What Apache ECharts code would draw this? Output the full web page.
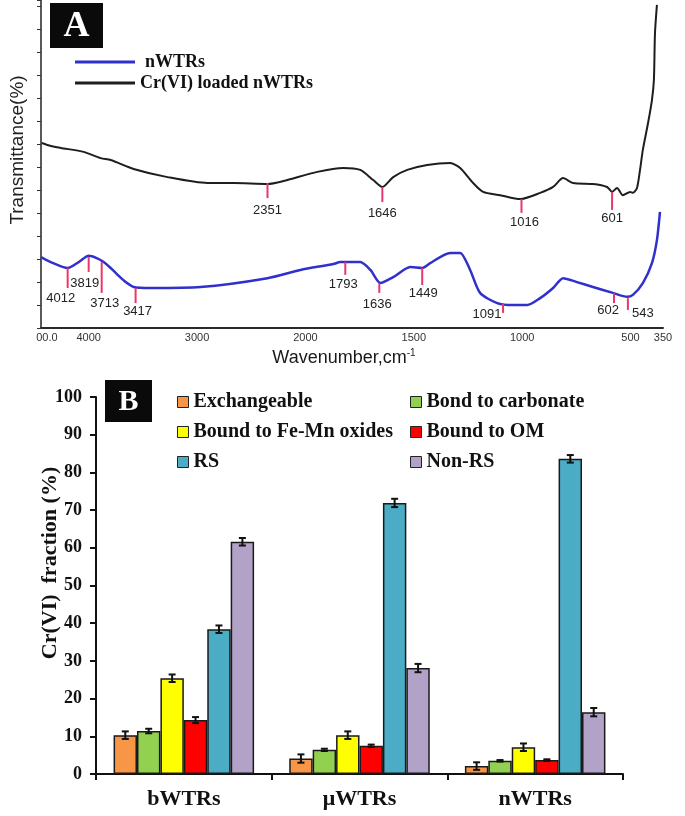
<!DOCTYPE html>
<html><head><meta charset="utf-8">
<script src="https://cdn.jsdelivr.net/npm/echarts@6/dist/echarts.min.js"></script>
<style>html,body{margin:0;padding:0;background:#fff}#c{width:685px;height:816px}</style>
</head><body><div id="c"></div>
<script>
// ---------- Panel A : FTIR spectra ----------
const wnTickLabels = ['00.0', '4000', '3000', '2000', '1500', '1000', '500', '350'];
const wnTickValues = [4385, 4000, 3000, 2000, 1500, 1000, 500, 350];

const loadedWn = [4433,4350,4258,4046,3889,3797,3585,3272,2903,2664,2350,2203,1945,1825,1747,1687,1645,1595,1530,1438,1332,1286,1226,1180,1101,1009,917,857,811,765,673,608,585,562,535,502,489,470,456,443,419,401,392,387,378];
const loadedT  = [56.4,55.5,54.9,53.7,51.8,51.2,48.5,46.0,44.2,44.2,43.9,44.8,47.6,48.8,48.2,45.1,43.0,46.0,48.2,49.7,50.3,48.8,44.2,41.5,40.5,39.3,41.2,43.0,45.7,44.2,43.9,43.0,41.5,42.7,40.5,41.5,41.2,42.7,48.2,54.3,62.5,69.5,75.6,89.9,98.5];

const nWn = [4440,4350,4194,4092,4000,3926,3862,3797,3733,3659,3585,3429,2968,2350,2046,1871,1839,1747,1700,1654,1595,1516,1461,1424,1332,1286,1240,1194,1115,1042,977,917,857,811,747,673,581,516,489,443,401,378,364];
const nT  = [21.6,20.1,18.3,20.1,22.0,21.3,20.1,18.3,16.2,14.0,12.5,12.2,12.5,15.2,17.7,19.5,20.1,20.1,17.7,13.7,15.5,18.6,18.3,19.8,22.9,22.9,17.7,10.7,7.6,7.0,7.0,9.1,12.2,15.2,14.0,12.5,10.7,9.5,10.1,13.7,19.8,26.8,35.4];

const peakLabels = ['2351','1646','1016','601','4012','3819','3713','3417','1793','1636','1449','1091','602','543'];
const peakWn     = [2350,1645,1003,585,4194,4000,3880,3567,1816,1659,1461,1088,576,512];
const peakTop    = [44.2,43.0,39.3,41.5,18.3,21.6,20.1,12.2,20.1,13.7,18.3,7.6,10.7,9.1];
const peakBottom = [39.6,38.4,35.1,36.0,12.2,17.1,10.7,7.6,16.2,10.7,13.1,4.6,7.6,5.5];

// ---------- Panel B : Cr(VI) fractions ----------
const categories = ['bWTRs', 'μWTRs', 'nWTRs'];
const fractionNames = ['Exchangeable', 'Bond to carbonate', 'Bound to Fe-Mn oxides', 'Bound to OM', 'RS', 'Non-RS'];
const exchangeable = [10.3, 4.1, 2.1];
const carbonate    = [11.4, 6.4, 3.5];
const feMnOxides   = [25.4, 10.3, 7.1];
const boundOM      = [14.3, 7.5, 3.7];
const rsFraction   = [38.4, 71.9, 83.6];
const nonRs        = [61.6, 28.1, 16.4];
const exchangeableErr = [1.0, 1.1, 1.0];
const carbonateErr    = [0.6, 0.3, 0.2];
const feMnOxidesErr   = [1.0, 1.0, 1.0];
const boundOMErr      = [0.8, 0.3, 0.2];
const rsFractionErr   = [1.0, 1.1, 1.0];
const nonRsErr        = [1.0, 1.1, 1.1];

// ---------- layout / style ----------
const SERIF = '"Liberation Serif", "Times New Roman", serif';
const SANS = '"Liberation Sans", Arial, sans-serif';
const peakLabelOffset = [[0,12],[0,11],[3,10],[0,9],[-7,10],[-4,12],[3,11],[2,8],[-2,10],[-2,12],[1,8],[-16,2],[-6,7],[15,3]];
const fractionColors = ['#F79646', '#92D050', '#FFFF00', '#FF0000', '#4BACC6', '#B2A2C7'];

// wavenumber axis: scale is compressed 2x above 2000 cm-1
const toT = w => (w <= 2000 ? w : 2000 + (w - 2000) / 2);
const tickT = wnTickValues.map(toT);

const values = [exchangeable, carbonate, feMnOxides, boundOM, rsFraction, nonRs];
const errors = [exchangeableErr, carbonateErr, feMnOxidesErr, boundOMErr, rsFractionErr, nonRsErr];
const errData = [];
values.forEach((arr, si) => arr.forEach((v, ci) => errData.push([ci, si, v, errors[si][ci]])));

const barSeries = fractionNames.map((name, i) => ({
  name, type: 'bar', xAxisIndex: 1, yAxisIndex: 1,
  data: values[i], barGap: '0%', barCategoryGap: '20%',
  itemStyle: { color: fractionColors[i], borderColor: '#1a1a1a', borderWidth: 1.5 },
  silent: true
}));

const chart = echarts.init(document.getElementById('c'), null, { renderer: 'canvas' });
chart.setOption({
  animation: false,
  backgroundColor: '#ffffff',
  grid: [
    { left: 41, top: 0, width: 622, height: 328 },
    { left: 96, top: 397, width: 527, height: 377 }
  ],
  xAxis: [
    {
      gridIndex: 0, type: 'value', min: 350, max: 3220, inverse: true,
      axisLine: { lineStyle: { color: '#2a2a2a', width: 2 } },
      axisTick: { show: false },
      splitLine: { show: false },
      axisLabel: {
        customValues: tickT, margin: 4, fontSize: 11, fontFamily: SANS, color: '#333',
        formatter: v => { const i = tickT.findIndex(t => Math.abs(t - v) < 1); return i >= 0 ? wnTickLabels[i] : ''; }
      }
    },
    {
      gridIndex: 1, type: 'category', data: categories,
      axisLine: { lineStyle: { color: '#111', width: 2 } },
      axisTick: { show: true, length: 6, lineStyle: { color: '#111', width: 2 } },
      axisLabel: { fontFamily: SERIF, fontWeight: 'bold', fontSize: 22, color: '#111', margin: 14 }
    }
  ],
  yAxis: [
    {
      gridIndex: 0, type: 'value', min: 0, max: 100, interval: 7,
      axisLine: { show: true, lineStyle: { color: '#222', width: 1.5 } },
      axisTick: { show: true, length: 4, lineStyle: { color: '#333' } },
      axisLabel: { show: false },
      splitLine: { show: false }
    },
    {
      gridIndex: 1, type: 'value', min: 0, max: 100, interval: 10,
      axisLine: { show: true, lineStyle: { color: '#111', width: 2 } },
      axisTick: { show: true, length: 6, lineStyle: { color: '#111', width: 2 } },
      axisLabel: { fontFamily: SERIF, fontWeight: 'bold', fontSize: 18, color: '#111', margin: 14 },
      splitLine: { show: false }
    }
  ],
  legend: [
    {
      data: [{ name: 'nWTRs', textStyle: { padding: [0, 0, 0, 5] } }, { name: 'Cr(VI) loaded nWTRs' }],
      orient: 'vertical', left: 70, top: 48, itemWidth: 60, itemHeight: 3, icon: 'rect', itemGap: 3,
      textStyle: { fontFamily: SERIF, fontWeight: 'bold', fontSize: 18, lineHeight: 18, color: '#111' }
    },
    {
      data: ['Exchangeable', 'Bound to Fe-Mn oxides', 'RS'],
      orient: 'vertical', left: 172, top: 387, itemWidth: 11, itemHeight: 11, icon: 'rect', itemGap: 10,
      itemStyle: { borderColor: '#222', borderWidth: 1 },
      textStyle: { fontFamily: SERIF, fontWeight: 'bold', fontSize: 20, lineHeight: 20, color: '#111' }
    },
    {
      data: ['Bond to carbonate', 'Bound to OM', 'Non-RS'],
      orient: 'vertical', left: 405, top: 387, itemWidth: 11, itemHeight: 11, icon: 'rect', itemGap: 10,
      itemStyle: { borderColor: '#222', borderWidth: 1 },
      textStyle: { fontFamily: SERIF, fontWeight: 'bold', fontSize: 20, lineHeight: 20, color: '#111' }
    }
  ],
  series: [
    {
      name: 'nWTRs', type: 'line', xAxisIndex: 0, yAxisIndex: 0, color: '#3030cc',
      data: nWn.map((w, i) => [toT(w), nT[i]]), showSymbol: false, smooth: 0.25,
      lineStyle: { color: '#3030cc', width: 2.5 }, silent: true
    },
    {
      name: 'Cr(VI) loaded nWTRs', type: 'line', xAxisIndex: 0, yAxisIndex: 0, color: '#1e1e1e',
      data: loadedWn.map((w, i) => [toT(w), loadedT[i]]), showSymbol: false, smooth: 0.25,
      lineStyle: { color: '#1e1e1e', width: 2 }, silent: true
    },
    {
      type: 'custom', xAxisIndex: 0, yAxisIndex: 0, silent: true, z: 5,
      data: peakLabels.map((l, i) => [toT(peakWn[i]), peakTop[i], peakBottom[i], i]),
      encode: { x: 0, y: [1, 2] },
      renderItem(params, api) {
        const i = api.value(3);
        const p1 = api.coord([api.value(0), api.value(1)]);
        const p2 = api.coord([api.value(0), api.value(2)]);
        const off = peakLabelOffset[i];
        return { type: 'group', children: [
          { type: 'line', shape: { x1: p1[0], y1: p1[1], x2: p2[0], y2: p2[1] }, style: { stroke: '#e8386a', lineWidth: 2 } },
          { type: 'text', x: p2[0] + off[0], y: p2[1] + off[1],
            style: { text: peakLabels[i], font: '13px ' + SANS, fill: '#222', align: 'center', verticalAlign: 'middle' } }
        ] };
      }
    },
    ...barSeries,
    {
      type: 'custom', xAxisIndex: 1, yAxisIndex: 1, silent: true, z: 10,
      data: errData, encode: { x: 0, y: 2 },
      renderItem(params, api) {
        const cat = api.value(0), si = api.value(1), v = api.value(2), e = api.value(3);
        const band = api.size([1, 0])[0];
        const gw = band * 0.8, bw = gw / 6;
        const cx = api.coord([cat, v])[0] - gw / 2 + (si + 0.5) * bw;
        const yh = api.coord([cat, v + e])[1], yl = api.coord([cat, v - e])[1];
        const cap = 3.5, st = { stroke: '#111', lineWidth: 2 };
        return { type: 'group', children: [
          { type: 'line', shape: { x1: cx, y1: yh, x2: cx, y2: yl }, style: st },
          { type: 'line', shape: { x1: cx - cap, y1: yh, x2: cx + cap, y2: yh }, style: st },
          { type: 'line', shape: { x1: cx - cap, y1: yl, x2: cx + cap, y2: yl }, style: st }
        ] };
      }
    }
  ],
  graphic: [
    { type: 'rect', shape: { x: 50, y: 3, width: 53, height: 45 }, style: { fill: '#0a0a0a' }, z: 20 },
    { type: 'text', x: 76.5, y: 27, z: 21, style: { text: 'A', font: 'bold 36px ' + SERIF, fill: '#fff', align: 'center', verticalAlign: 'middle' } },
    { type: 'rect', shape: { x: 105, y: 380, width: 47, height: 42 }, style: { fill: '#0a0a0a' }, z: 20 },
    { type: 'text', x: 128.5, y: 402, z: 21, style: { text: 'B', font: 'bold 30px ' + SERIF, fill: '#fff', align: 'center', verticalAlign: 'middle' } },
    { type: 'text', x: 18, y: 150, rotation: Math.PI / 2, z: 21,
      style: { text: 'Transmittance(%)', font: '19px ' + SANS, fill: '#222', align: 'center', verticalAlign: 'middle' } },
    { type: 'text', x: 344, y: 358, z: 21,
      style: { text: '{a|Wavenumber,cm}{b|-1}', align: 'center', verticalAlign: 'middle',
        rich: { a: { font: '18px ' + SANS, fill: '#1a1a1a' }, b: { font: '10px ' + SANS, fill: '#1a1a1a', padding: [0, 0, 10, 0] } } } },
    { type: 'text', x: 50, y: 563, rotation: Math.PI / 2, z: 21,
      style: { text: 'Cr(VI)  fraction (%)', font: 'bold 22px ' + SERIF, fill: '#111', align: 'center', verticalAlign: 'middle' } }
  ]
});
</script></body></html>
